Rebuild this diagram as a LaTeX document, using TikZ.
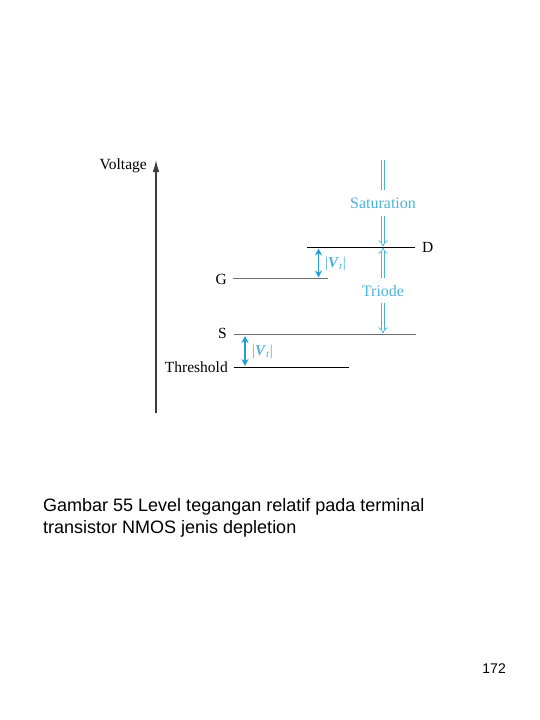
\documentclass[tikz,border=0pt]{standalone}
\usepackage{fontspec}
\setmainfont{Liberation Sans}
\newfontfamily\serifA{Liberation Serif}
\usetikzlibrary{arrows.meta}
\definecolor{cyanA}{RGB}{30,160,215}
\definecolor{cyanT}{RGB}{75,178,220}
\definecolor{axisgrey}{RGB}{60,60,60}
\definecolor{levgrey}{RGB}{110,110,110}
\tikzset{
  lab/.style={font=\serifA\fontsize{15.5}{17}\selectfont, text=black, inner sep=0pt},
  vlab/.style={font=\serifA\fontsize{15}{17}\selectfont, text=cyanT, inner sep=0pt, anchor=west},
  reg/.style={font=\serifA\fontsize{16}{18}\selectfont, text=cyanT, inner sep=0pt},
  level/.style={line width=0.9pt},
  vtarrow/.style={cyanA, line width=1.5pt, {Stealth[length=7pt,width=7pt]}-{Stealth[length=7pt,width=7pt]}},
  dbl/.style={draw=cyanT, double=white, line width=0.7pt, double distance=2.6pt},
  dblarr/.style={dbl, -{Implies}},
  captext/.style={font=\fontsize{18}{22}\selectfont, inner sep=0pt, anchor=base west},
}
\begin{document}
\begin{tikzpicture}[x=1pt,y=-1pt]
\useasboundingbox (0,0) rectangle (540,720);
% axis
\coordinate (ax0) at (156,413);
\coordinate (ax1) at (156,160);
\draw[axisgrey, line width=1.3pt, -{Latex[length=12pt,width=6.5pt]}] (ax0) -- (ax1);
\node[lab, anchor=east] (volt) at (147,166) {Voltage};
% levels
\coordinate (d0) at (307,247); \coordinate (d1) at (415,247);
\coordinate (g0) at (233,278); \coordinate (g1) at (328,278);
\coordinate (s0) at (234,334.5); \coordinate (s1) at (416,334.5);
\coordinate (t0) at (234,367); \coordinate (t1) at (349,367);
\draw[level, black] (d0) -- (d1);
\draw[level, levgrey] (g0) -- (g1);
\draw[levgrey, line width=1.6pt] (s0) -- (s1);
\draw[level, black] (t0) -- (t1);
\node[lab, anchor=west] (D) at (422,247) {D};
\node[lab, anchor=east] (G) at (227,279) {G};
\node[lab, anchor=east] (S) at (227,333) {S};
\node[lab, anchor=east] (thr) at (228,367) {Threshold};
% |Vt| arrows
\coordinate (va0) at (318.5,248.5); \coordinate (va1) at (318.5,277.5);
\draw[vtarrow] (va0) -- (va1);
\node[vlab] (vt1) at (325,264) {|\textbf{\textit{V}}\textsubscript{\textit{t}}|};
\coordinate (vb0) at (245,336); \coordinate (vb1) at (245,366);
\draw[vtarrow] (vb0) -- (vb1);
\node[vlab] (vt2) at (252,352) {|\textbf{\textit{V}}\textsubscript{\textit{t}}|};
% regions
\coordinate (sa0) at (383,160); \coordinate (sa1) at (383,190);
\draw[dbl] (sa0) -- (sa1);
\node[reg] (sat) at (383,203) {Saturation};
\coordinate (sb0) at (383,216); \coordinate (sb1) at (383,246.5);
\draw[dblarr] (sb0) -- (sb1);
\coordinate (tr0) at (383,278); \coordinate (tr1) at (383,247.5);
\draw[dblarr] (tr0) -- (tr1);
\node[reg] (tri) at (383,291) {Triode};
\coordinate (tb0) at (383,303); \coordinate (tb1) at (383,333.5);
\draw[dblarr] (tb0) -- (tb1);
% caption
\node[captext] (cap1) at (43,511) {Gambar 55 Level tegangan relatif pada terminal};
\node[captext] (cap2) at (43,533) {transistor NMOS jenis depletion};
\node[font=\fontsize{14}{16}\selectfont, inner sep=0pt, anchor=base east] (pg) at (506,673) {172};
\end{tikzpicture}
\end{document}
